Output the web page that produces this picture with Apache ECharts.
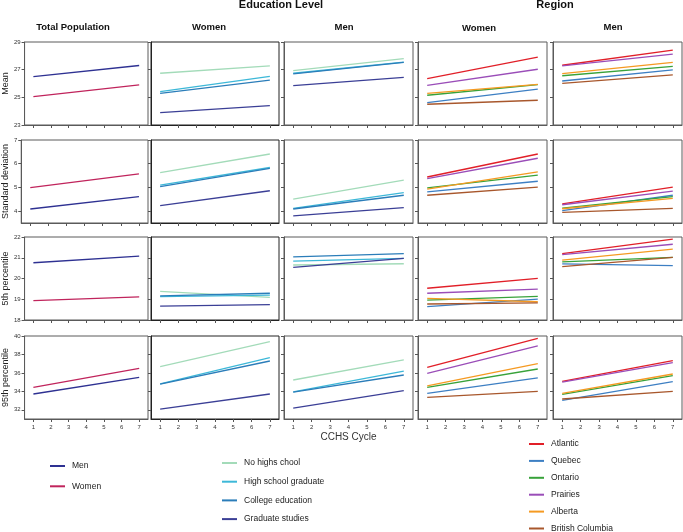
<!DOCTYPE html>
<html>
<head>
<meta charset="utf-8">
<script src="https://cdn.jsdelivr.net/npm/echarts@6/dist/echarts.min.js"></script>
<style>
html,body{margin:0;padding:0;background:#fff;}
#chart{width:683px;height:532px;}
</style>
</head>
<body>
<div id="chart"></div>
<script>
// ---------- data ----------
const cycles = [1, 2, 3, 4, 5, 6, 7];
const fitCycles = [1, 7]; // fitted lines: value at first and last cycle
const metrics = ['Mean', 'Standard deviation', '5th percentile', '95th percentile'];
const totalGroups = ['Men', 'Women'];
const eduGroups = ['No highs chool', 'High school graduate', 'College education', 'Graduate studies'];
const regionGroups = ['Atlantic', 'Quebec', 'Ontario', 'Prairies', 'Alberta', 'British Columbia'];

// y-axis ranges and tick labels per metric row
const yMins = [23, 3.5, 18, 31];
const yMaxs = [29, 7, 22, 40];
const meanTicks = [23, 25, 27, 29];
const sdTicks = [4, 5, 6, 7];
const p5Ticks = [18, 19, 20, 21, 22];
const p95Ticks = [32, 34, 36, 38, 40];

// Mean  [cycle1, cycle7]
const meanTotal = [[26.5, 27.3], [25.05, 25.9]];
const meanEduWomen = [[26.74, 27.27], [25.42, 26.52], [25.28, 26.25], [23.89, 24.4]];
const meanEduMen = [[26.93, 27.8], [26.74, 27.55], [26.69, 27.52], [25.84, 26.45]];
const meanRegWomen = [[26.35, 27.9], [24.62, 25.6], [25.15, 25.92], [25.87, 27.03], [25.29, 25.94], [24.5, 24.79]];
const meanRegMen = [[27.32, 28.42], [26.18, 26.98], [26.56, 27.24], [27.27, 28.13], [26.71, 27.53], [26.01, 26.62]];

// Standard deviation
const sdTotal = [[4.09, 4.61], [4.99, 5.57]];
const sdEduWomen = [[5.62, 6.41], [5.1, 5.84], [5.03, 5.8], [4.23, 4.86]];
const sdEduMen = [[4.51, 5.31], [4.12, 4.78], [4.09, 4.67], [3.8, 4.15]];
const sdRegWomen = [[5.44, 6.41], [4.81, 5.26], [4.98, 5.52], [5.37, 6.23], [4.93, 5.66], [4.67, 5.01]];
const sdRegMen = [[4.31, 5.01], [4.02, 4.67], [4.13, 4.61], [4.27, 4.84], [4.1, 4.54], [3.95, 4.12]];

// 5th percentile
const p5Total = [[20.76, 21.08], [18.93, 19.11]];
const p5EduWomen = [[19.38, 19.09], [19.13, 19.2], [19.16, 19.29], [18.67, 18.74]];
const p5EduMen = [[20.65, 20.71], [20.84, 20.97], [21.04, 21.2], [20.54, 20.97]];
const p5RegWomen = [[19.53, 20.01], [18.64, 19.01], [18.96, 19.14], [19.29, 19.49], [19.04, 18.88], [18.77, 18.83]];
const p5RegMen = [[21.2, 21.9], [20.7, 20.62], [20.8, 21.02], [21.15, 21.65], [20.89, 21.42], [20.57, 21.02]];

// 95th percentile
const p95Total = [[33.71, 35.52], [34.44, 36.5]];
const p95EduWomen = [[36.67, 39.38], [34.82, 37.65], [34.78, 37.29], [32.08, 33.71]];
const p95EduMen = [[35.23, 37.4], [33.95, 36.2], [33.92, 35.77], [32.19, 34.07]];
const p95RegWomen = [[36.6, 39.75], [33.79, 35.45], [34.44, 36.42], [35.96, 38.92], [34.58, 37.0], [33.35, 34.0]];
const p95RegMen = [[35.09, 37.32], [33.03, 35.05], [33.68, 35.7], [35.0, 37.11], [33.79, 35.88], [33.17, 34.0]];

// ---------- styling / layout ----------
const FONT = 'Liberation Sans, Arial, sans-serif';
const totalColors = ['#2e3192', '#c0245c'];
const eduColors = ['#a3dbb9', '#3db8d8', '#2b7db9', '#3b3f96'];
const regionColors = ['#e11f28', '#3d7fc3', '#38a23a', '#9a4db8', '#f59a22', '#a8572c'];

const colX = [[21, 148], [151, 279], [284, 413], [418, 547], [553, 682]];
const rowY = [[42, 125], [140, 223], [237, 320], [336, 419]];
const rowTicks = [meanTicks, sdTicks, p5Ticks, p95Ticks];

const rowData = [
  [meanTotal, meanEduWomen, meanEduMen, meanRegWomen, meanRegMen],
  [sdTotal, sdEduWomen, sdEduMen, sdRegWomen, sdRegMen],
  [p5Total, p5EduWomen, p5EduMen, p5RegWomen, p5RegMen],
  [p95Total, p95EduWomen, p95EduMen, p95RegWomen, p95RegMen]
];
const colGroups = [totalGroups, eduGroups, eduGroups, regionGroups, regionGroups];
const colColors = [totalColors, eduColors, eduColors, regionColors, regionColors];

const grids = [], xAxes = [], yAxes = [], series = [];
let idx = 0;
for (let r = 0; r < 4; r++) {
  for (let c = 0; c < 5; c++) {
    const [x0, x1] = colX[c];
    const [y0, y1] = rowY[r];
    const bc = (c === 1) ? '#222' : '#5a5a5a';
    grids.push({
      left: x0, top: y0, width: x1 - x0, height: y1 - y0,
      show: true, borderColor: bc, borderWidth: 1, backgroundColor: '#fff'
    });
    xAxes.push({
      gridIndex: idx, type: 'value', min: 0.5, max: 7.5,
      axisLine: { show: true, onZero: false, lineStyle: { color: bc, width: 1 } },
      axisTick: { show: true, customValues: cycles, length: 3, lineStyle: { color: '#555' } },
      axisLabel: { show: r === 3, customValues: cycles, fontSize: 6, margin: 5, color: '#333', fontFamily: FONT },
      splitLine: { show: false },
      name: (r === 3 && c === 2) ? 'CCHS Cycle' : '',
      nameLocation: 'middle', nameGap: 13,
      nameTextStyle: { fontSize: 10, color: '#333', fontFamily: FONT }
    });
    yAxes.push({
      gridIndex: idx, type: 'value', min: yMins[r], max: yMaxs[r],
      axisLine: { show: true, onZero: false, lineStyle: { color: bc, width: 1 } },
      axisTick: { show: true, customValues: rowTicks[r], length: 3, lineStyle: { color: '#555' } },
      axisLabel: { show: c === 0, customValues: rowTicks[r], fontSize: 6, margin: 4, color: '#333', fontFamily: FONT },
      splitLine: { show: false },
      name: c === 0 ? metrics[r] : '',
      nameLocation: 'middle', nameGap: 11,
      nameTextStyle: { fontSize: 9, color: '#222', fontFamily: FONT }
    });
    const groups = colGroups[c];
    const vals = rowData[r][c];
    groups.forEach((g, gi) => {
      series.push({
        type: 'line', name: g, xAxisIndex: idx, yAxisIndex: idx,
        data: fitCycles.map((cy, k) => [cy, vals[gi][k]]),
        showSymbol: false, symbol: 'none', silent: true,
        color: colColors[c][gi],
        lineStyle: { width: 1.3, color: colColors[c][gi] },
        itemStyle: { color: colColors[c][gi] }
      });
    });
    idx++;
  }
}

const titleStyle = { fontSize: 9.5, fontWeight: 'bold', color: '#111', fontFamily: FONT };
const headStyle = { fontSize: 11, fontWeight: 'bold', color: '#111', fontFamily: FONT };
const titles = [
  { text: 'Education Level', left: 281, top: -1, textAlign: 'center', padding: 0, textStyle: headStyle },
  { text: 'Region', left: 555, top: -1, textAlign: 'center', padding: 0, textStyle: headStyle },
  { text: 'Total Population', left: 73, top: 22, textAlign: 'center', padding: 0, textStyle: titleStyle },
  { text: 'Women', left: 209, top: 22, textAlign: 'center', padding: 0, textStyle: titleStyle },
  { text: 'Men', left: 344, top: 22, textAlign: 'center', padding: 0, textStyle: titleStyle },
  { text: 'Women', left: 479, top: 23, textAlign: 'center', padding: 0, textStyle: titleStyle },
  { text: 'Men', left: 613, top: 22, textAlign: 'center', padding: 0, textStyle: titleStyle }
];

const legendBase = {
  orient: 'vertical', icon: 'rect', itemWidth: 15, itemHeight: 2,
  padding: 0, selectedMode: false, height: 150,
  textStyle: { fontSize: 8.5, color: '#222', fontFamily: FONT, lineHeight: 10, padding: [0, 0, 0, 2] }
};

const option = {
  animation: false,
  backgroundColor: '#fff',
  title: titles,
  grid: grids,
  xAxis: xAxes,
  yAxis: yAxes,
  legend: [
    Object.assign({}, legendBase, { data: totalGroups, left: 50, top: 461, itemGap: 10.3 }),
    Object.assign({}, legendBase, { data: eduGroups, left: 222, top: 458, itemGap: 8.7 }),
    Object.assign({}, legendBase, { data: regionGroups, left: 529, top: 439, itemGap: 6.9 })
  ],
  series: series
};

const chart = echarts.init(document.getElementById('chart'), null, { renderer: 'canvas' });
chart.setOption(option);
</script>
</body>
</html>
